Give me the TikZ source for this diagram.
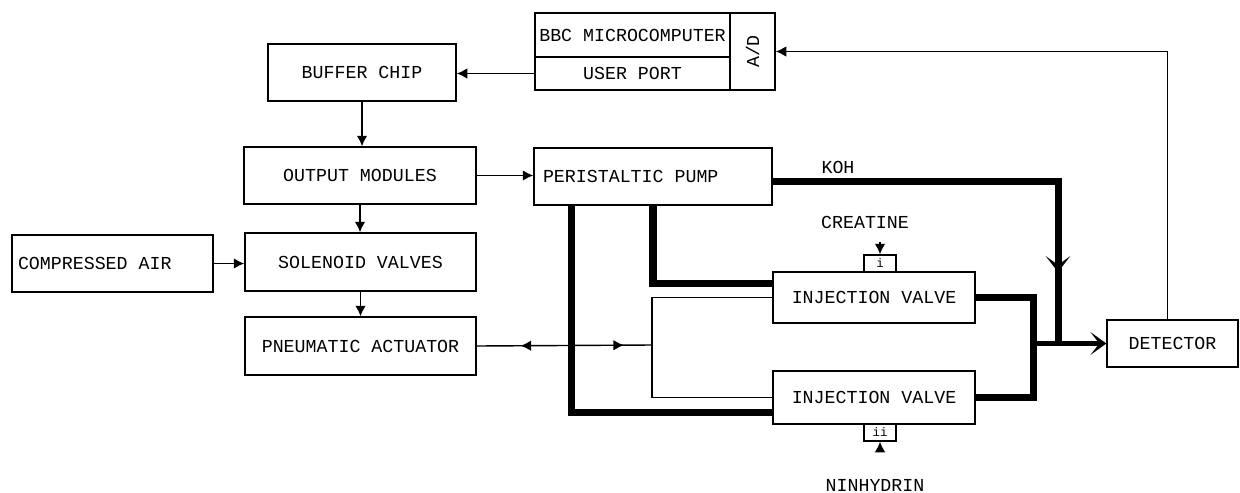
\documentclass[tikz,border=0pt]{standalone}
\usepackage{graphicx}
\usepackage{fontspec}
\setmonofont{Liberation Mono}
\usetikzlibrary{arrows.meta,decorations.markings,positioning}

\begin{document}
\begin{tikzpicture}[line width=0.8pt, font=\ttfamily\fontsize{10.4}{12}\selectfont,
    blk/.style={draw, rectangle, inner sep=0pt},
    wire/.style={-{Latex[length=6pt,width=6pt]}},
    flow/.style={line width=4pt},
    twoway/.style={postaction={decorate}, decoration={markings,
        mark=at position 0.25 with {\arrowreversed{Latex[length=6pt,width=6pt]}},
        mark=at position 0.84 with {\arrow{Latex[length=6pt,width=6pt]}}}},
    kohflow/.style={flow, postaction={decorate}, decoration={markings,
        mark=at position 0.84 with {\arrow{Stealth[length=9pt,width=14pt,inset=5pt]}}}}]
    \useasboundingbox (0,0) rectangle (24.8,-9.84);

    % control side
    \node[blk, minimum width=3.90cm, minimum height=0.88cm] (bbc)  at (12.65,-0.70) {BBC MICROCOMPUTER};
    \node[blk, minimum width=3.90cm, minimum height=0.66cm] (port) at (12.65,-1.47) {USER PORT};
    \node[blk, minimum width=0.90cm, minimum height=1.54cm] (ad)   at (15.05,-1.03) {\rotatebox{90}{A/D}};
    \node[blk, minimum width=3.76cm, minimum height=1.14cm] (buf)  at (7.24,-1.45) {BUFFER CHIP};
    \node[blk, minimum width=4.64cm, minimum height=1.14cm] (out)  at (7.20,-3.51) {OUTPUT MODULES};
    \node[blk, minimum width=4.62cm, minimum height=1.16cm] (sol)  at (7.21,-5.24) {SOLENOID VALVES};
    \node[blk, minimum height=1.14cm, text width=3.78cm, inner xsep=0.12cm, align=left] (air) at (2.25,-5.27) {\spaceskip=0pt COMPRESSED AIR};
    \node[blk, minimum width=4.62cm, minimum height=1.16cm] (pa)   at (7.21,-6.92) {PNEUMATIC ACTUATOR};

    % flow side
    \node[blk, minimum height=1.14cm, text width=4.40cm, inner xsep=0.18cm, align=left] (pump) at (13.06,-3.53) {\spaceskip=0pt PERISTALTIC PUMP};
    \node[blk, minimum width=4.04cm, minimum height=1.02cm] (iv1) at (17.48,-5.95) {INJECTION VALVE};
    \node[blk, minimum width=4.04cm, minimum height=1.06cm] (iv2) at (17.48,-7.95) {INJECTION VALVE};
    \node[blk, minimum width=0.64cm, minimum height=0.34cm, font=\ttfamily\scriptsize] (vi)  at (17.60,-5.27) {i};
    \node[blk, minimum width=0.64cm, minimum height=0.34cm, font=\ttfamily\scriptsize] (vii) at (17.60,-8.65) {ii};
    \node[blk, minimum width=2.62cm, minimum height=0.94cm] (det) at (23.45,-6.87) {DETECTOR};
    \node (koh) at (16.76,-3.34) {KOH};
    \node (crea) at (17.30,-4.44) {CREATINE};
    \node (ninh) at (17.50,-9.70) {NINHYDRIN};

    \coordinate (sp)  at (13.04,-6.90);
    \coordinate (jn)  at (20.66,-6.87);
    \coordinate (mix) at (21.16,-6.87);

    % signals
    \draw[wire] (port.west) -- (port.west -| buf.east);
    \draw[wire] (buf.south) -- (buf.south |- out.north);
    \draw[wire] (out.south) -- (out.south |- sol.north);
    \draw[wire] (sol.south) -- (sol.south |- pa.north);
    \draw[wire] (air.east) -- (air.east -| sol.west);
    \draw[wire] (out.east) -- (out.east -| pump.west);
    \draw[wire] ([xshift=-0.1cm]det.north) |- (ad.east);
    \draw[twoway] (pa.east) -- (sp);
    \draw (iv1.west) -| (sp) |- (iv2.west);
    \draw[wire, shorten <=0.15cm] (crea.south -| vi.north) -- (vi.north);
    \draw[wire, shorten <=0.42cm] (ninh.north -| vii.south) -- (vii.south);

    % liquid lines
    \draw[flow] (pump.south) |- ([yshift=-0.24cm]iv1.north west);
    \draw[flow] ([xshift=0.76cm]pump.south west) |- ([yshift=0.24cm]iv2.south west);
    \draw[kohflow] ([yshift=-0.1cm]pump.east) -| (mix);
    \draw[flow] (iv1.east) -| (jn) |- (iv2.east);
    \draw[line width=3pt, -{Stealth[length=9pt,width=13pt,inset=5pt]}] (jn) -- (det.west);
\end{tikzpicture}
\end{document}
